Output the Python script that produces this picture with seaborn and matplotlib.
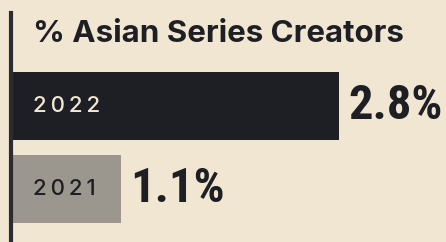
import seaborn as sns
import matplotlib.pyplot as plt
import matplotlib.transforms as mtransforms
from matplotlib import font_manager as fm

# data
years = ['2022', '2021']
share = [2.8, 1.1]
labels = ['2.8%', '1.1%']

BG = '#f0e6d2'
DARK = '#1e1f24'
GRAY = '#9c978e'
palette = {'2022': DARK, '2021': GRAY}
text_col = {'2022': '#f0e6d2', '2021': DARK}

names = {f.name for f in fm.fontManager.ttflist}
cond = next((n for n in ['Roboto Condensed', 'Liberation Sans Narrow', 'DejaVu Sans']
             if n in names), 'DejaVu Sans')

W, H = 446, 242
fig = plt.figure(figsize=(W / 100, H / 100), dpi=100)
fig.patch.set_facecolor(BG)
left = 10.5
ax = fig.add_axes([left / W, 0, 1 - left / W, 1 - 13 / H])
ax.set_facecolor(BG)

sns.barplot(x=share, y=years, hue=years, palette=palette, order=years,
            orient='h', width=0.82, legend=False, saturation=1, ax=ax)

ax.set_xlim(0.238, 3.635)
ax.set_ylim(1.639, -1.12)
for s in ['top', 'right', 'bottom']:
    ax.spines[s].set_visible(False)
ax.spines['left'].set_linewidth(3)
ax.spines['left'].set_color('#2b2b30')
ax.set_xticks([])
ax.set_yticks([])
ax.set_xlabel('')
ax.set_ylabel('')

# year labels inside bars
trans = mtransforms.blended_transform_factory(fig.transFigure, ax.transData)
for i, y in enumerate(years):
    ax.text(33 / W, i, '\u2009'.join(y), transform=trans, ha='left', va='center',
            fontsize=16, color=text_col[y], family=['Inter', 'DejaVu Sans'],
            fontweight='medium')

# value labels
for i, (v, lab) in enumerate(zip(share, labels)):
    ax.annotate(lab, xy=(v, i), xytext=(9, 0), textcoords='offset pixels',
                ha='left', va='center', fontsize=35, fontweight='bold',
                family=cond, color=DARK)

fig.text(33 / W, 1 - 42 / H, '% Asian Series Creators', ha='left', va='baseline',
         fontsize=22.5, fontweight='bold', family=['Inter', 'DejaVu Sans'], color=DARK)

fig.savefig('out.png', dpi=100, facecolor=BG)
